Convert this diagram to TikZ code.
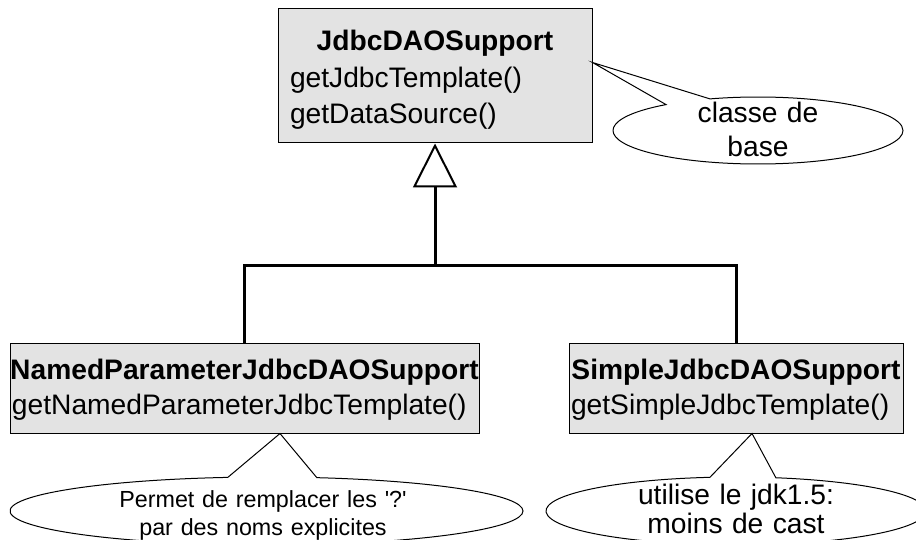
\documentclass[tikz,border=0pt]{standalone}
\usepackage{fontspec}
\setmainfont{Liberation Sans}
\usetikzlibrary{arrows.meta, shapes.callouts}
\definecolor{classgray}{RGB}{227,227,227}

\begin{document}
\begin{tikzpicture}[x=1pt, y=-1pt,
  classe/.style={draw, line width=1pt, fill=classgray, inner xsep=2pt, inner ysep=0pt,
    align=left, font=\fontsize{28.2}{35}\selectfont},
  bulle/.style={ellipse callout, draw, line width=1pt, inner sep=0pt, callout pointer arc=20},
  texte/.style={align=center, anchor=base},
  herit/.style={line width=3pt}]

  \useasboundingbox (0,0) rectangle (916,540);
  \clip (0,0) rectangle (916,540);

  % les trois classes
  \node[classe, minimum width=314, minimum height=134, text width=290,
        font=\fontsize{28.2}{36.5}\selectfont] (jdbc) at (435,76)
    {\rule{0pt}{28pt}\makebox[290pt]{\bfseries JdbcDAOSupport}\\getJdbcTemplate()\\getDataSource()};
  \node[classe, minimum width=469, minimum height=90, text width=465] (named) at (244.5,388)
    {\rule{0pt}{24pt}\makebox[465pt]{\bfseries NamedParameterJdbcDAOSupport}\\getNamedParameterJdbcTemplate()};
  \node[classe, minimum width=334, minimum height=90, text width=330] (simple) at (736,388)
    {\rule{0pt}{24pt}\makebox[330pt]{\bfseries SimpleJdbcDAOSupport}\\getSimpleJdbcTemplate()};

  % heritage
  \coordinate (jn) at (435,266);
  \draw[herit] (named.north) |- (jn) -| (simple.north);
  \draw[herit, -{Triangle[open, length=44pt, width=44pt, line width=2pt]}] (jn) -- (jdbc.south);

  % bulles de commentaire
  \node[bulle, minimum width=290, minimum height=67,
        callout absolute pointer={([yshift=-54pt]jdbc.north east)}] (bjdbc) at (758,130.5) {};
  \node[bulle, minimum width=513, minimum height=68,
        callout absolute pointer={([xshift=35.5pt]named.south)}] (bnamed) at (266.5,511) {};
  \node[bulle, minimum width=380, minimum height=68,
        callout absolute pointer={([xshift=16pt]simple.south)}] (bsimple) at (736,511) {};

  \node[texte, text width=200, font=\fontsize{28.2}{34}\selectfont] (tjdbc) at (758,123)
    {classe de\\base};
  \node[texte, text width=330, font=\fontsize{23.3}{28}\selectfont] (tnamed) at (263,507)
    {Permet de remplacer les \textquotesingle?\textquotesingle\\par des noms explicites};
  \node[texte, text width=300, font=\fontsize{28.2}{29}\selectfont] (tsimple) at (736,504)
    {utilise le jdk1.5:\\moins de cast};
\end{tikzpicture}
\end{document}
